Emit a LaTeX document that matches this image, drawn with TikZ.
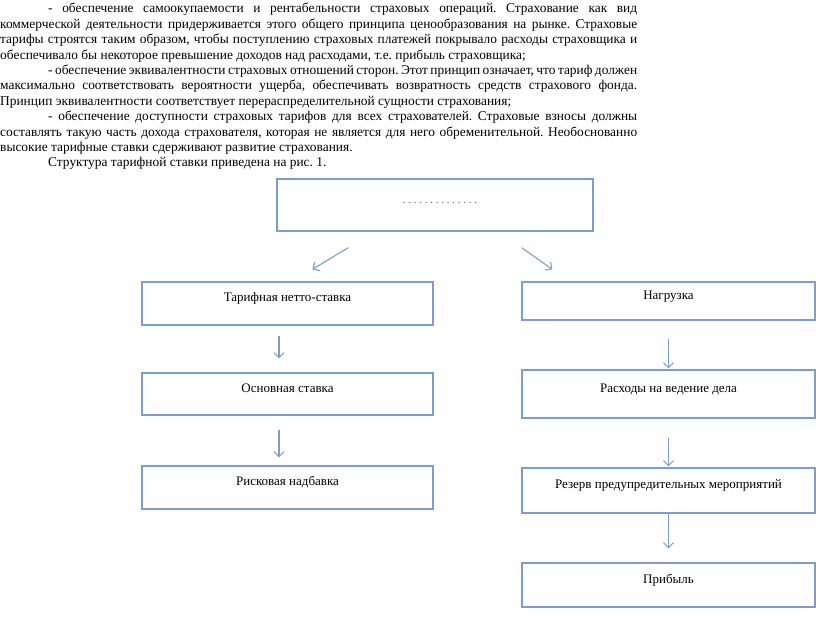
\documentclass[tikz,border=0pt]{standalone}
\usepackage{fontspec}
\setmainfont{Liberation Serif}
\usepackage{tikz}
\usetikzlibrary{arrows.meta}
\definecolor{boxblue}{RGB}{125,158,205}
\frenchspacing
\tikzset{
  flowarrow/.style={-{Straight Barb[length=5pt,width=10pt]}, line width=1.1pt, boxblue},
  partbox/.style={draw=boxblue, line width=1.3pt, inner sep=0pt, minimum width=291pt, text height=8pt, text depth=12pt, font=\fontsize{13pt}{15pt}\selectfont},
  partbox2/.style={partbox, minimum width=293pt},
  bodytext/.style={inner sep=0pt, text width=637pt, align=justify, font=\fontsize{13.4pt}{15.4pt}\selectfont}
}

\begin{document}
\begin{tikzpicture}[x=1pt, y=-1pt]
  \useasboundingbox (0,0) rectangle (816,640);
  \node[bodytext, anchor=north west] (txt) at (0,2) {\strut\hspace*{48pt}- обеспечение самоокупаемости и рентабельности страховых операций. Страхование как вид\linebreak
коммерческой деятельности придерживается этого общего принципа ценообразования на рынке. Страховые\linebreak
тарифы строятся таким образом, чтобы поступлению страховых платежей покрывало расходы страховщика и\linebreak
обеспечивало бы некоторое превышение доходов над расходами, т.е. прибыль страховщика;\\
\hspace*{48pt}- обеспечение эквивалентности страховых отношений сторон. Этот принцип означает, что тариф должен\linebreak
максимально соответствовать вероятности ущерба, обеспечивать возвратность средств страхового фонда.\linebreak
Принцип эквивалентности соответствует перераспределительной сущности страхования;\\
\hspace*{48pt}- обеспечение доступности страховых тарифов для всех страхователей. Страховые взносы должны\linebreak
составлять такую часть дохода страхователя, которая не является для него обременительной. Необоснованно\linebreak
высокие тарифные ставки сдерживают развитие страхования.\\
\hspace*{48pt}Структура тарифной ставки приведена на рис. 1.};

  \node[partbox, minimum width=316pt, minimum height=52pt, font=\fontsize{11pt}{13pt}\selectfont, text=black!65] (top) at (435,205) {\hspace*{10pt}. . . . . . . . . . . . . .};

  \node[partbox, minimum height=43pt] (lnet) at (287.5,303.5) {Тарифная нетто-ставка};
  \node[partbox, minimum height=42pt] (lbase) at (287.5,394) {Основная ставка};
  \node[partbox, minimum height=43pt] (lrisk) at (287.5,487.5) {Рисковая надбавка};

  \node[partbox2, minimum height=38pt] (rload) at (668.5,301) {Нагрузка};
  \node[partbox2, minimum height=48pt] (rexp) at (668.5,394) {Расходы на ведение дела};
  \node[partbox2, minimum height=45pt] (rres) at (668.5,490.5) {Резерв предупредительных мероприятий};
  \node[partbox2, minimum height=44pt] (rprof) at (668.5,585) {Прибыль};

  \draw[flowarrow] ([xshift=72pt,yshift=-16pt]top.south west) -- ([xshift=171pt,yshift=12pt]lnet.north west);
  \draw[flowarrow] ([xshift=-72pt,yshift=-16pt]top.south east) -- ([xshift=31pt,yshift=12pt]rload.north west);

  \draw[flowarrow, shorten <=10pt, shorten >=14pt] ([xshift=-8.5pt]lnet.south) -- ([xshift=-8.5pt]lbase.north);
  \draw[flowarrow, shorten <=14pt, shorten >=8pt] ([xshift=-8.5pt]lbase.south) -- ([xshift=-8.5pt]lrisk.north);

  \draw[flowarrow, shorten <=18pt, shorten >=1pt] (rload) -- (rexp);
  \draw[flowarrow, shorten <=19pt, shorten >=1pt] (rexp) -- (rres);
  \draw[flowarrow, shorten >=14pt] (rres) -- (rprof);
\end{tikzpicture}
\end{document}
